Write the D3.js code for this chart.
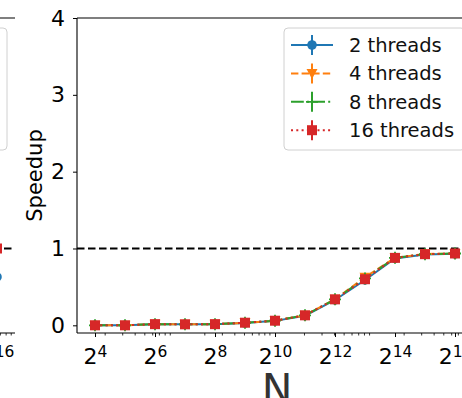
<!DOCTYPE html>
<html>
<head>
<meta charset="utf-8">
<script src="https://cdn.jsdelivr.net/npm/d3@7"></script>
<style>
  html, body { margin: 0; padding: 0; background: #fff; }
  svg { display: block; font-family: "DejaVu Sans", sans-serif; }
</style>
</head>
<body>
<svg id="chart" width="462" height="398"></svg>
<script>
// ---------------- data ----------------
const nValues = [16, 32, 64, 128, 256, 512, 1024, 2048, 4096, 8192, 16384, 32768, 65536];
const tickExponents = [4, 6, 8, 10, 12, 14, 16];
const yTicks = [0, 1, 2, 3, 4];

const speed2  = [0.000, 0.000, 0.015, 0.013, 0.015, 0.030, 0.058, 0.125, 0.330, 0.590, 0.870, 0.922, 0.930];
const speed4  = [0.000, 0.000, 0.015, 0.013, 0.015, 0.032, 0.060, 0.130, 0.340, 0.625, 0.880, 0.928, 0.935];
const speed8  = [0.000, 0.000, 0.015, 0.013, 0.015, 0.032, 0.060, 0.130, 0.338, 0.610, 0.878, 0.926, 0.935];
const speed16 = [0.000, 0.000, 0.015, 0.013, 0.015, 0.034, 0.060, 0.130, 0.338, 0.600, 0.878, 0.926, 0.935];
const errs    = [0.002, 0.002, 0.002, 0.002, 0.002, 0.003, 0.004, 0.005, 0.008, 0.010, 0.008, 0.006, 0.006];

// neighbouring (cropped) panel: only its last points are visible
const leftN = [65536];
const leftSpeed2 = [0.63];
const leftSpeed16 = [1.00];
const leftTickExponents = [16];

const seriesNames = ["2 threads", "4 threads", "8 threads", "16 threads"];
const colors = ["#1f77b4", "#ff7f0e", "#2ca02c", "#d62728"];
const dashes = [null, "7.4,3.2", "12.8,3.2,2,3.2", "2,3.3"];
const markers = ["circle", "triangle", "plus", "square"];

// ---------------- layout ----------------
const svg = d3.select("#chart");
const axW = 396, topY = 18, botY = 333;
const y = d3.scaleLinear().domain([-0.1, 4]).range([botY, topY]);

function markerPath(type) {
  if (type === "circle") return d3.symbol().type(d3.symbolCircle).size(72)();
  if (type === "square") return "M-5,-5H5V5H-5Z";
  if (type === "triangle") return "M-5.5,-4.5L5.5,-4.5L0,5.5Z";
  if (type === "plus") return "M-6,0H6M0,-6V6";
  return "";
}

function drawMarker(g, type, color, cx, cy) {
  const p = g.append("path").attr("d", markerPath(type))
    .attr("transform", `translate(${cx},${cy})`);
  if (type === "plus") p.attr("fill", "none").attr("stroke", color).attr("stroke-width", 1.8);
  else p.attr("fill", color).attr("stroke", "none");
}

function panel(x0, opts) {
  const g = svg.append("g");
  const x = d3.scaleLog().base(2).domain([Math.pow(2, 3.4), Math.pow(2, 16.6)]).range([x0, x0 + axW]);

  // minor ticks (base-10 sub-decades)
  const minors = [];
  for (let d = 10; d <= 100000; d *= 10) for (let k = 2; k <= 9; k++) {
    const v = k * d; if (v > x.domain()[0] && v < x.domain()[1]) minors.push(v);
  }
  g.append("g").attr("transform", `translate(0,${botY})`)
    .call(d3.axisBottom(x).tickValues(minors).tickSize(2.5).tickFormat(""))
    .call(a => a.select(".domain").remove())
    .call(a => a.selectAll("text").remove())
    .call(a => a.selectAll("line").attr("stroke", "#000").attr("stroke-width", 0.8));

  // major ticks with 2^k labels
  const xa = g.append("g").attr("transform", `translate(0,${botY})`)
    .call(d3.axisBottom(x).tickValues(opts.tickExps.map(e => Math.pow(2, e)))
      .tickSize(4).tickPadding(11).tickFormat(""));
  xa.select(".domain").remove();
  xa.selectAll("line").attr("stroke", "#000").attr("stroke-width", 1);
  xa.selectAll(".tick text").each(function(d) {
    const t = d3.select(this).attr("fill", "#000").attr("font-size", 22)
      .attr("font-family", "DejaVu Sans").attr("dy", "0.71em");
    t.append("tspan").text("2");
    t.append("tspan").attr("font-size", 15.5).attr("dy", -7).text(String(Math.round(Math.log2(d))));
  });

  // y axis
  if (opts.yAxis) {
    const ya = g.append("g").attr("transform", `translate(${x0},0)`)
      .call(d3.axisLeft(y).tickValues(yTicks).tickSize(4).tickPadding(8).tickFormat(d3.format("d")));
    ya.select(".domain").remove();
    ya.selectAll("line").attr("stroke", "#000").attr("stroke-width", 1);
    ya.selectAll("text").attr("font-size", 22).attr("fill", "#000").attr("font-family", "DejaVu Sans");
  }

  // spines
  g.append("line").attr("x1", x0).attr("x2", x0 + axW).attr("y1", topY).attr("y2", topY)
    .attr("stroke", "#000").attr("stroke-width", 1.1);
  g.append("line").attr("x1", x0).attr("x2", x0 + axW).attr("y1", botY).attr("y2", botY)
    .attr("stroke", "#000").attr("stroke-width", 1.1);
  if (opts.yAxis) {
    g.append("line").attr("x1", x0).attr("x2", x0).attr("y1", topY).attr("y2", botY)
      .attr("stroke", "#000").attr("stroke-width", 1.1);
    g.append("line").attr("x1", x0 + axW).attr("x2", x0 + axW).attr("y1", topY).attr("y2", botY)
      .attr("stroke", "#000").attr("stroke-width", 1.1);
  }

  // reference line at speedup = 1
  g.append("line").attr("x1", x0).attr("x2", x0 + axW).attr("y1", y(1)).attr("y2", y(1))
    .attr("stroke", "#000").attr("stroke-width", 2).attr("stroke-dasharray", "7.5,3.5");

  // series
  opts.series.forEach((s, i) => {
    if (!s) return;
    const pts = s.n.map((n, j) => ({ n, v: s.v[j], e: s.e ? s.e[j] : 0 }));
    const sg = g.append("g");
    const line = d3.line().x(d => x(d.n)).y(d => y(d.v));
    if (pts.length > 1) {
      sg.append("path").datum(pts).attr("d", line).attr("fill", "none")
        .attr("stroke", colors[i]).attr("stroke-width", 2)
        .attr("stroke-dasharray", dashes[i]);
    }
    pts.forEach(p => {
      sg.append("line").attr("x1", x(p.n)).attr("x2", x(p.n))
        .attr("y1", y(p.v - p.e)).attr("y2", y(p.v + p.e))
        .attr("stroke", colors[i]).attr("stroke-width", 2);
      drawMarker(sg, markers[i], colors[i], x(p.n), y(p.v));
    });
  });

  // legend
  const lx = x0 + axW - 8 - 181, ly = 28;
  const lg = g.append("g");
  lg.append("rect").attr("x", lx).attr("y", ly).attr("width", 181).attr("height", 122)
    .attr("rx", 4).attr("fill", "#fff").attr("fill-opacity", 0.8)
    .attr("stroke", "#d0d0d0").attr("stroke-width", 1);
  if (opts.legendEntries) {
    seriesNames.forEach((name, i) => {
      const ry = 45 + i * 28.4;
      const hx0 = lx + 7, hx1 = lx + 49, hc = lx + 28;
      lg.append("line").attr("x1", hx0).attr("x2", hx1).attr("y1", ry).attr("y2", ry)
        .attr("stroke", colors[i]).attr("stroke-width", 2).attr("stroke-dasharray", dashes[i]);
      lg.append("line").attr("x1", hc).attr("x2", hc).attr("y1", ry - 10).attr("y2", ry + 10)
        .attr("stroke", colors[i]).attr("stroke-width", 2);
      drawMarker(lg, markers[i], colors[i], hc, ry);
      lg.append("text").attr("x", lx + 65).attr("y", ry).attr("dy", "0.36em")
        .attr("font-size", 19.5).attr("fill", "#111").text(name);
    });
  }
  return { g, x };
}

// cropped neighbouring panel on the left (only its right edge is in view)
panel(77 - 458, {
  yAxis: false,
  legendEntries: false,
  tickExps: leftTickExponents,
  series: [
    { n: leftN, v: leftSpeed2 },
    null, null,
    { n: leftN, v: leftSpeed16 }
  ]
});

// main panel
const main = panel(77, {
  yAxis: true,
  legendEntries: true,
  tickExps: tickExponents,
  series: [
    { n: nValues, v: speed2, e: errs },
    { n: nValues, v: speed4, e: errs },
    { n: nValues, v: speed8, e: errs },
    { n: nValues, v: speed16, e: errs }
  ]
});

// axis labels
svg.append("text").attr("transform", `translate(42,${(topY + botY) / 2}) rotate(-90)`)
  .attr("text-anchor", "middle").attr("font-size", 21).attr("fill", "#000").text("Speedup");
svg.append("text").attr("x", 277).attr("y", 403).attr("text-anchor", "middle")
  .attr("font-size", 41).attr("fill", "#333").text("N");
</script>
</body>
</html>
